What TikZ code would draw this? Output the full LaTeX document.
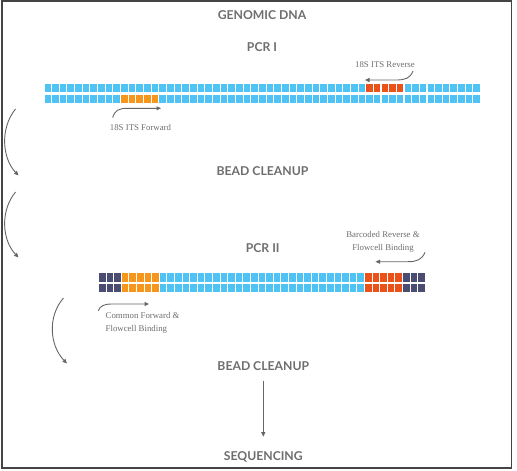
\documentclass[tikz,border=0pt]{standalone}
\usepackage{fontspec}
\setmainfont{Liberation Serif}
\newfontfamily\headfont{Lato}
\usetikzlibrary{arrows.meta,calc}
\definecolor{cblue}{HTML}{4FC3F4}
\definecolor{corange}{HTML}{F7961C}
\definecolor{cred}{HTML}{EA521A}
\definecolor{cnavy}{HTML}{4A4C72}
\definecolor{ctext}{HTML}{6E6E70}
\definecolor{carrow}{HTML}{666666}
\definecolor{cframe}{HTML}{444444}
\tikzset{
  heading/.style={font=\headfont\bfseries\fontsize{12.2}{14}\selectfont, text=ctext, inner sep=0pt, anchor=center},
  label/.style={font=\fontsize{8.8}{12.5}\selectfont, text=ctext, inner sep=0pt},
  arr/.style={draw=carrow, line width=0.9pt, -{Triangle[length=4.5pt,width=4pt]}},
}
\begin{document}
\begin{tikzpicture}[x=1pt,y=-1pt]
\useasboundingbox (0,0) rectangle (517,471);
\fill[white] (0,0) rectangle (517,471);
\draw[cframe, line width=1.3pt] (2,1) rectangle (511.5,468);

% headings
\node[heading] (gdna) at (262,15) {GENOMIC DNA};
\node[heading] (pcr1) at (262,47) {PCR I};
\node[heading] (bead1) at (262.5,171) {BEAD CLEANUP};
\node[heading] (pcr2) at (262.7,248) {PCR II};
\node[heading] (bead2) at (263.3,366) {BEAD CLEANUP};
\node[heading] (seq) at (263.3,456.7) {SEQUENCING};

% PCR I strand
\foreach \i in {0,...,56} {
  \pgfmathsetmacro\xx{44.5+\i*7.66}
  \pgfmathsetmacro\ct{(\i>=42 && \i<=46) ? "cred" : "cblue"}
  \pgfmathsetmacro\cb{(\i>=10 && \i<=14) ? "corange" : "cblue"}
  \fill[\ct] (\xx,83.7) rectangle ++(6.6,8.3);
  \fill[\cb] (\xx,94.7) rectangle ++(6.6,8.3);
}

% PCR II strand
\foreach \i in {0,...,42} {
  \pgfmathsetmacro\xx{99+\i*7.6}
  \pgfmathsetmacro\cc{(\i<=2 || \i>=40) ? "cnavy" : ((\i<=7) ? "corange" : ((\i>=35) ? "cred" : "cblue"))}
  \fill[\cc] (\xx,273.4) rectangle ++(6.5,8.3);
  \fill[\cc] (\xx,284) rectangle ++(6.5,8.0);
}

% labels
\node[label] (rev) at (385,65) {18S ITS Reverse};
\node[label] (fwd) at (140.5,127.7) {18S ITS Forward};
\node[label, align=center] (bcr) at (383,242) {Barcoded Reverse \&\\Flowcell Binding};
\node[label, align=left, anchor=west] (cmf) at (105.5,323) {Common Forward \&\\Flowcell Binding};

% primer arrows
\coordinate (revs) at (413,71);
\coordinate (reve) at (365,80);
\draw[arr] (revs) .. controls (410,78.5) and (405,80) .. (396,80) -- (reve);
\coordinate (fwds) at (112.7,117.7);
\coordinate (fwde) at (161,108.3);
\draw[arr] (fwds) .. controls (114.5,110.5) and (119,108.3) .. (127,108.3) -- (fwde);
\coordinate (bcrs) at (425,252.3);
\coordinate (bcre) at (375.5,261.7);
\draw[arr] (bcrs) .. controls (422,259.5) and (417,261.7) .. (408,261.7) -- (bcre);
\coordinate (cmfs) at (98.3,310.7);
\coordinate (cmfe) at (149,304);
\draw[arr] (cmfs) .. controls (100,306) and (104,304) .. (112,304) -- (cmfe);

% cycle arrows
\coordinate (c1s) at (15.5,109);
\coordinate (c1e) at (18.5,175.5);
\draw[arr] (c1s) .. controls (0,128) and (2,158) .. (c1e);
\coordinate (c2s) at (15.5,192);
\coordinate (c2e) at (18.5,257.5);
\draw[arr] (c2s) .. controls (0,211) and (2,240) .. (c2e);
\coordinate (c3s) at (63.5,298);
\coordinate (c3e) at (67,363.5);
\draw[arr] (c3s) .. controls (47,317) and (50,346) .. (c3e);

% final arrow
\draw[arr] ([yshift=-14.7pt]bead2.center) -- ([yshift=20pt]seq.center);
\end{tikzpicture}
\end{document}
